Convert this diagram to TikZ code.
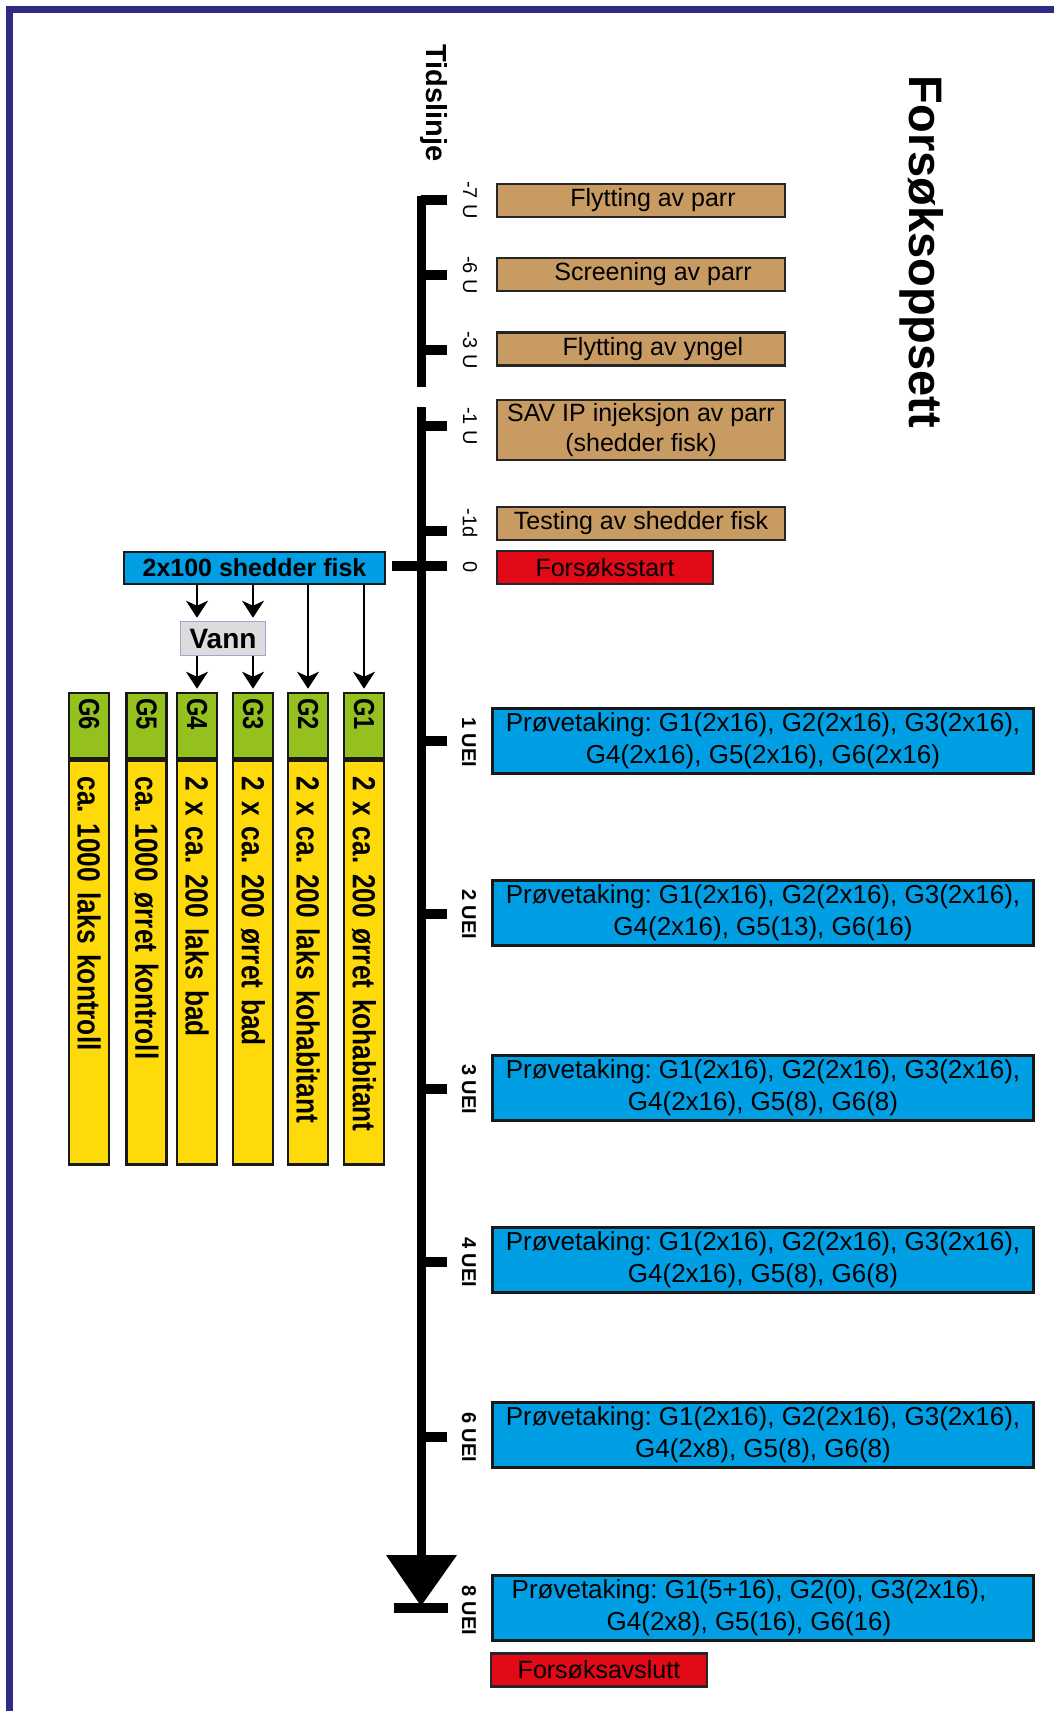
\documentclass[tikz,border=0pt]{standalone}
\usepackage{fontspec}
\setmainfont{Liberation Sans}
\newfontfamily\narrowfont[FakeStretch=0.82, WordSpace=0.82]{Liberation Sans}
\usetikzlibrary{arrows.meta}
\frenchspacing

\definecolor{framecol}{HTML}{2E2A86}
\definecolor{tancol}{HTML}{C89B62}
\definecolor{startred}{HTML}{E20A17}
\definecolor{sampleblue}{HTML}{009FE3}
\definecolor{grpgreen}{HTML}{95C11F}
\definecolor{grpyellow}{HTML}{FFDA0A}
\definecolor{vanngray}{HTML}{DCDCDC}
\definecolor{vannedge}{HTML}{A7A3CC}

\tikzset{
  tline/.style={line width=9pt, black},
  tickmark/.style={line width=10pt, black},
  ticklabel/.style={rotate=-90, inner sep=0pt, font=\fontsize{20}{24}\selectfont},
  ueilabel/.style={ticklabel, font=\fontsize{20}{24}\selectfont\bfseries},
  brownbox/.style={draw=black!85, line width=2.5pt, fill=tancol, minimum width=288pt,
    minimum height=33pt, inner sep=0pt, align=center, font=\fontsize{25}{30}\selectfont},
  redbox/.style={brownbox, fill=startred, minimum width=216pt},
  bluebox/.style={draw=black!90, line width=3pt, fill=sampleblue, minimum width=541pt,
    minimum height=65pt, inner sep=0pt, align=center, font=\fontsize{26}{32}\selectfont},
  grouphead/.style={rotate=-90, draw=black!90, line width=2.5pt, fill=grpgreen,
    minimum height=40pt, text width=55pt, inner xsep=5pt, inner ysep=0pt, align=left,
    font=\narrowfont\bfseries\fontsize{29}{30}\selectfont},
  groupbody/.style={grouphead, fill=grpyellow, text width=372pt, inner xsep=16pt,
    font=\narrowfont\bfseries\fontsize{32}{34}\selectfont},
  flow/.style={line width=2.3pt, black, shorten >=3pt}
}

\begin{document}
\begin{tikzpicture}[x=1pt, y=-1pt, >={Stealth[length=17pt, width=22pt, inset=5pt]}]
\useasboundingbox (0,0) rectangle (1054,1711);
\draw[framecol, line width=7pt] (9,1711) -- (9,9) -- (1054,9);

% titles
\node[rotate=-90, font=\fontsize{47}{50}\selectfont\bfseries] (title) at (922,252) {Forsøksoppsett};
\node[rotate=-90, font=\fontsize{29}{32}\selectfont\bfseries] (tidslinje) at (434,103) {Tidslinje};

% timeline
\draw[tline] (421,195.5) -- (421,387);
\draw[tickmark] (421,200) -- (447,200);
\draw[tickmark] (421,275) -- (447,275);
\draw[tickmark] (421,350) -- (447,350);
\draw[tline] (421,407) -- (421,1560);
\draw[tickmark] (421,426) -- (447,426);
\draw[tickmark] (421,531) -- (447,531);
\draw[tickmark] (392,566) -- (447,566);
\draw[tickmark] (421,741) -- (447,741);
\draw[tickmark] (421,914) -- (447,914);
\draw[tickmark] (421,1089) -- (447,1089);
\draw[tickmark] (421,1262) -- (447,1262);
\draw[tickmark] (421,1437) -- (447,1437);
\fill (386,1555) -- (457,1555) -- (421,1606) -- cycle;
\draw[tickmark] (394,1608) -- (448,1608);

\node[ticklabel] (l1) at (470,200) {-7 U};
\node[ticklabel] (l2) at (470,275) {-6 U};
\node[ticklabel] (l3) at (470,350) {-3 U};
\node[ticklabel] (l4) at (470,426) {-1 U};
\node[ticklabel] (l5) at (470,523) {-1d};
\node[ticklabel] (l6) at (470,567) {0};
\node[ueilabel] (u1) at (469,742) {1 UEI};
\node[ueilabel] (u2) at (469,914) {2 UEI};
\node[ueilabel] (u3) at (469,1089) {3 UEI};
\node[ueilabel] (u4) at (469,1262) {4 UEI};
\node[ueilabel] (u6) at (469,1437) {6 UEI};
\node[ueilabel] (u8) at (469,1610) {8 UEI};

% before start
\node[brownbox] (a1) at (641,200.5) {\hspace*{24pt}Flytting av parr};
\node[brownbox] (a2) at (641,274.5) {\hspace*{24pt}Screening av parr};
\node[brownbox] (a3) at (641,349) {\hspace*{24pt}Flytting av yngel};
\node[brownbox, minimum height=60pt] (a4) at (641,430) {SAV IP injeksjon av parr\\(shedder fisk)};
\node[brownbox] (a5) at (641,523.5) {Testing av shedder fisk};
\node[redbox] (start) at (605,567.5) {Forsøksstart};

% sampling
\node[bluebox] (s1) at (763,741) {Prøvetaking: G1(2x16), G2(2x16), G3(2x16),\\G4(2x16), G5(2x16), G6(2x16)};
\node[bluebox] (s2) at (763,913) {Prøvetaking: G1(2x16), G2(2x16), G3(2x16),\\G4(2x16), G5(13), G6(16)};
\node[bluebox] (s3) at (763,1088) {Prøvetaking: G1(2x16), G2(2x16), G3(2x16),\\G4(2x16), G5(8), G6(8)};
\node[bluebox] (s4) at (763,1260) {Prøvetaking: G1(2x16), G2(2x16), G3(2x16),\\G4(2x16), G5(8), G6(8)};
\node[bluebox] (s5) at (763,1434.5) {Prøvetaking: G1(2x16), G2(2x16), G3(2x16),\\G4(2x8), G5(8), G6(8)};
\node[bluebox] (s6) at (763,1608) {Prøvetaking: G1(5+16), G2(0), G3(2x16),\rule{28pt}{0pt}\\G4(2x8), G5(16), G6(16)\rule{28pt}{0pt}};
\node[redbox] (stop) at (599,1670) {Forsøksavslutt};

% groups
\node[bluebox, minimum width=261pt, minimum height=32pt, line width=2.5pt,
  font=\fontsize{25}{30}\selectfont\bfseries] (shed) at (254.5,568) {2x100 shedder fisk};
\node[draw=vannedge, line width=1.5pt, fill=vanngray, minimum width=85pt, minimum height=34pt,
  inner sep=0pt, font=\fontsize{28}{30}\selectfont\bfseries] (vann) at (223,638.5) {Vann};

\node[grouphead] (g1) at (364,725.5) {G1};
\node[grouphead] (g2) at (308,725.5) {G2};
\node[grouphead] (g3) at (253,725.5) {G3};
\node[grouphead] (g4) at (197,725.5) {G4};
\node[grouphead] (g5) at (146.5,725.5) {G5};
\node[grouphead] (g6) at (89,725.5) {G6};
\node[groupbody, anchor=west] (b1) at (g1.east) {2 x ca. 200 ørret kohabitant};
\node[groupbody, anchor=west] (b2) at (g2.east) {2 x ca. 200 laks kohabitant};
\node[groupbody, anchor=west] (b3) at (g3.east) {2 x ca. 200 ørret bad};
\node[groupbody, anchor=west] (b4) at (g4.east) {2 x ca. 200 laks bad};
\node[groupbody, anchor=west] (b5) at (g5.east) {ca. 1000 ørret kontroll};
\node[groupbody, anchor=west] (b6) at (g6.east) {ca. 1000 laks kontroll};

\draw[flow, ->] (shed.south -| g4.west) -- (vann.north -| g4.west);
\draw[flow, ->] (shed.south -| g3.west) -- (vann.north -| g3.west);
\draw[flow, ->] (vann.south -| g4.west) -- (g4.west);
\draw[flow, ->] (vann.south -| g3.west) -- (g3.west);
\draw[flow, ->] (shed.south -| g2.west) -- (g2.west);
\draw[flow, ->] (shed.south -| g1.west) -- (g1.west);

\end{tikzpicture}
\end{document}
